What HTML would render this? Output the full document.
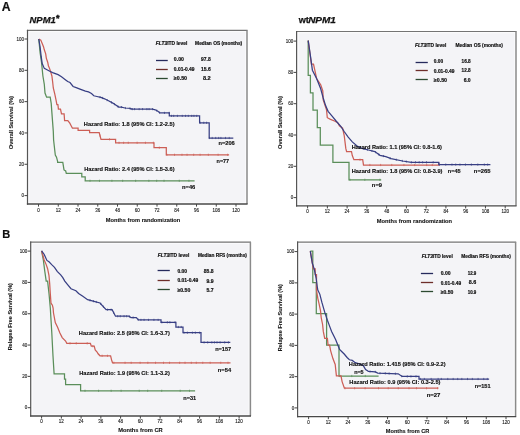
<!DOCTYPE html><html><head><meta charset="utf-8"><style>html,body{margin:0;padding:0;background:#fff;}svg{display:block;will-change:transform}</style></head><body>
<svg width="520" height="435" viewBox="0 0 520 435" font-family="Liberation Sans, sans-serif">
<rect width="520" height="435" fill="#fff"/>
<g>
<text x="1.75" y="10.92" font-size="12.2" font-weight="bold" font-style="normal" fill="#111" stroke="#111" stroke-width="0.2" textLength="8.80" lengthAdjust="spacingAndGlyphs">A</text>
<text x="2.25" y="238.15" font-size="11.6" font-weight="bold" font-style="normal" fill="#111" stroke="#111" stroke-width="0.2" textLength="8.00" lengthAdjust="spacingAndGlyphs">B</text>
<text x="29.55" y="22.99" font-size="9.9" font-weight="bold" font-style="italic" fill="#111" stroke="#111" stroke-width="0.25" textLength="26.20" lengthAdjust="spacingAndGlyphs">NPM1</text>
<text x="55.90" y="20.90" font-size="9.0" font-weight="bold" font-style="normal" text-anchor="start" fill="#111" stroke="#111" stroke-width="0.45" >*</text>
<text x="298.65" y="23.19" font-size="9.9" font-weight="bold" font-style="normal" fill="#111" stroke="#111" stroke-width="0.25" textLength="10.20" lengthAdjust="spacingAndGlyphs">wt</text>
<text x="308.15" y="23.19" font-size="9.9" font-weight="bold" font-style="italic" fill="#111" stroke="#111" stroke-width="0.25" textLength="27.80" lengthAdjust="spacingAndGlyphs">NPM1</text>
<rect x="27.5" y="30.4" width="219.5" height="173.6" fill="#fbfbfc"/>
<rect x="29.50" y="32.10" width="215.70" height="170.20" fill="#f4f4f7"/>
<path d="M26.9,30.4H247.6" stroke="#747474" stroke-width="1.2"/>
<path d="M247.0,30.4V204.0" stroke="#8a8a8a" stroke-width="1.5"/>
<path d="M27.5,29.799999999999997V204.6" stroke="#555" stroke-width="1.2"/>
<path d="M26.9,204.0H247.6" stroke="#484848" stroke-width="1.3"/>
<line x1="38.50" y1="204.0" x2="38.50" y2="206.6" stroke="#444" stroke-width="1"/>
<text x="38.50" y="211.81" font-size="4.5" font-weight="normal" font-style="normal" text-anchor="middle" fill="#222" stroke="#222" stroke-width="0.12" >0</text>
<line x1="58.25" y1="204.0" x2="58.25" y2="206.6" stroke="#444" stroke-width="1"/>
<text x="58.25" y="211.81" font-size="4.5" font-weight="normal" font-style="normal" text-anchor="middle" fill="#222" stroke="#222" stroke-width="0.12" >12</text>
<line x1="78.00" y1="204.0" x2="78.00" y2="206.6" stroke="#444" stroke-width="1"/>
<text x="78.00" y="211.81" font-size="4.5" font-weight="normal" font-style="normal" text-anchor="middle" fill="#222" stroke="#222" stroke-width="0.12" >24</text>
<line x1="97.75" y1="204.0" x2="97.75" y2="206.6" stroke="#444" stroke-width="1"/>
<text x="97.75" y="211.81" font-size="4.5" font-weight="normal" font-style="normal" text-anchor="middle" fill="#222" stroke="#222" stroke-width="0.12" >36</text>
<line x1="117.50" y1="204.0" x2="117.50" y2="206.6" stroke="#444" stroke-width="1"/>
<text x="117.50" y="211.81" font-size="4.5" font-weight="normal" font-style="normal" text-anchor="middle" fill="#222" stroke="#222" stroke-width="0.12" >48</text>
<line x1="137.25" y1="204.0" x2="137.25" y2="206.6" stroke="#444" stroke-width="1"/>
<text x="137.25" y="211.81" font-size="4.5" font-weight="normal" font-style="normal" text-anchor="middle" fill="#222" stroke="#222" stroke-width="0.12" >60</text>
<line x1="157.00" y1="204.0" x2="157.00" y2="206.6" stroke="#444" stroke-width="1"/>
<text x="157.00" y="211.81" font-size="4.5" font-weight="normal" font-style="normal" text-anchor="middle" fill="#222" stroke="#222" stroke-width="0.12" >72</text>
<line x1="176.75" y1="204.0" x2="176.75" y2="206.6" stroke="#444" stroke-width="1"/>
<text x="176.75" y="211.81" font-size="4.5" font-weight="normal" font-style="normal" text-anchor="middle" fill="#222" stroke="#222" stroke-width="0.12" >84</text>
<line x1="196.50" y1="204.0" x2="196.50" y2="206.6" stroke="#444" stroke-width="1"/>
<text x="196.50" y="211.81" font-size="4.5" font-weight="normal" font-style="normal" text-anchor="middle" fill="#222" stroke="#222" stroke-width="0.12" >96</text>
<line x1="216.25" y1="204.0" x2="216.25" y2="206.6" stroke="#444" stroke-width="1"/>
<text x="216.25" y="211.81" font-size="4.5" font-weight="normal" font-style="normal" text-anchor="middle" fill="#222" stroke="#222" stroke-width="0.12" >108</text>
<line x1="236.00" y1="204.0" x2="236.00" y2="206.6" stroke="#444" stroke-width="1"/>
<text x="236.00" y="211.81" font-size="4.5" font-weight="normal" font-style="normal" text-anchor="middle" fill="#222" stroke="#222" stroke-width="0.12" >120</text>
<line x1="24.5" y1="195.60" x2="27.5" y2="195.60" stroke="#444" stroke-width="1"/>
<text x="24.10" y="197.21" font-size="4.5" font-weight="normal" font-style="normal" text-anchor="end" fill="#222" stroke="#222" stroke-width="0.12" >0</text>
<line x1="24.5" y1="164.28" x2="27.5" y2="164.28" stroke="#444" stroke-width="1"/>
<text x="24.10" y="165.89" font-size="4.5" font-weight="normal" font-style="normal" text-anchor="end" fill="#222" stroke="#222" stroke-width="0.12" >20</text>
<line x1="24.5" y1="132.96" x2="27.5" y2="132.96" stroke="#444" stroke-width="1"/>
<text x="24.10" y="134.57" font-size="4.5" font-weight="normal" font-style="normal" text-anchor="end" fill="#222" stroke="#222" stroke-width="0.12" >40</text>
<line x1="24.5" y1="101.64" x2="27.5" y2="101.64" stroke="#444" stroke-width="1"/>
<text x="24.10" y="103.25" font-size="4.5" font-weight="normal" font-style="normal" text-anchor="end" fill="#222" stroke="#222" stroke-width="0.12" >60</text>
<line x1="24.5" y1="70.32" x2="27.5" y2="70.32" stroke="#444" stroke-width="1"/>
<text x="24.10" y="71.93" font-size="4.5" font-weight="normal" font-style="normal" text-anchor="end" fill="#222" stroke="#222" stroke-width="0.12" >80</text>
<line x1="24.5" y1="39.00" x2="27.5" y2="39.00" stroke="#444" stroke-width="1"/>
<text x="24.10" y="40.61" font-size="4.5" font-weight="normal" font-style="normal" text-anchor="end" fill="#222" stroke="#222" stroke-width="0.12" >100</text>
<text transform="translate(10.60,149.25) rotate(-90)" x="0" y="2.18" font-size="6.1" font-weight="bold" fill="#1a1a1a" stroke="#1a1a1a" stroke-width="0.1" textLength="53.20" lengthAdjust="spacingAndGlyphs">Overall Survival (%)</text>
<text x="105.85" y="221.68" font-size="6.1" font-weight="bold" font-style="normal" fill="#111" stroke="#111" stroke-width="0.1" textLength="74.40" lengthAdjust="spacingAndGlyphs">Months from randomization</text>
<rect x="296.6" y="31.5" width="219.39999999999998" height="174.3" fill="#fbfbfc"/>
<rect x="298.60" y="33.20" width="215.60" height="170.90" fill="#f4f4f7"/>
<path d="M296.0,31.5H516.6" stroke="#747474" stroke-width="1.2"/>
<path d="M516.0,31.5V205.8" stroke="#8a8a8a" stroke-width="1.5"/>
<path d="M296.6,30.9V206.4" stroke="#555" stroke-width="1.2"/>
<path d="M296.0,205.8H516.6" stroke="#484848" stroke-width="1.3"/>
<line x1="307.60" y1="205.8" x2="307.60" y2="208.4" stroke="#444" stroke-width="1"/>
<text x="307.60" y="213.01" font-size="4.5" font-weight="normal" font-style="normal" text-anchor="middle" fill="#222" stroke="#222" stroke-width="0.12" >0</text>
<line x1="327.36" y1="205.8" x2="327.36" y2="208.4" stroke="#444" stroke-width="1"/>
<text x="327.36" y="213.01" font-size="4.5" font-weight="normal" font-style="normal" text-anchor="middle" fill="#222" stroke="#222" stroke-width="0.12" >12</text>
<line x1="347.12" y1="205.8" x2="347.12" y2="208.4" stroke="#444" stroke-width="1"/>
<text x="347.12" y="213.01" font-size="4.5" font-weight="normal" font-style="normal" text-anchor="middle" fill="#222" stroke="#222" stroke-width="0.12" >24</text>
<line x1="366.88" y1="205.8" x2="366.88" y2="208.4" stroke="#444" stroke-width="1"/>
<text x="366.88" y="213.01" font-size="4.5" font-weight="normal" font-style="normal" text-anchor="middle" fill="#222" stroke="#222" stroke-width="0.12" >36</text>
<line x1="386.64" y1="205.8" x2="386.64" y2="208.4" stroke="#444" stroke-width="1"/>
<text x="386.64" y="213.01" font-size="4.5" font-weight="normal" font-style="normal" text-anchor="middle" fill="#222" stroke="#222" stroke-width="0.12" >48</text>
<line x1="406.40" y1="205.8" x2="406.40" y2="208.4" stroke="#444" stroke-width="1"/>
<text x="406.40" y="213.01" font-size="4.5" font-weight="normal" font-style="normal" text-anchor="middle" fill="#222" stroke="#222" stroke-width="0.12" >60</text>
<line x1="426.16" y1="205.8" x2="426.16" y2="208.4" stroke="#444" stroke-width="1"/>
<text x="426.16" y="213.01" font-size="4.5" font-weight="normal" font-style="normal" text-anchor="middle" fill="#222" stroke="#222" stroke-width="0.12" >72</text>
<line x1="445.92" y1="205.8" x2="445.92" y2="208.4" stroke="#444" stroke-width="1"/>
<text x="445.92" y="213.01" font-size="4.5" font-weight="normal" font-style="normal" text-anchor="middle" fill="#222" stroke="#222" stroke-width="0.12" >84</text>
<line x1="465.68" y1="205.8" x2="465.68" y2="208.4" stroke="#444" stroke-width="1"/>
<text x="465.68" y="213.01" font-size="4.5" font-weight="normal" font-style="normal" text-anchor="middle" fill="#222" stroke="#222" stroke-width="0.12" >96</text>
<line x1="485.44" y1="205.8" x2="485.44" y2="208.4" stroke="#444" stroke-width="1"/>
<text x="485.44" y="213.01" font-size="4.5" font-weight="normal" font-style="normal" text-anchor="middle" fill="#222" stroke="#222" stroke-width="0.12" >108</text>
<line x1="505.20" y1="205.8" x2="505.20" y2="208.4" stroke="#444" stroke-width="1"/>
<text x="505.20" y="213.01" font-size="4.5" font-weight="normal" font-style="normal" text-anchor="middle" fill="#222" stroke="#222" stroke-width="0.12" >120</text>
<line x1="293.6" y1="197.60" x2="296.6" y2="197.60" stroke="#444" stroke-width="1"/>
<text x="293.20" y="199.21" font-size="4.5" font-weight="normal" font-style="normal" text-anchor="end" fill="#222" stroke="#222" stroke-width="0.12" >0</text>
<line x1="293.6" y1="166.30" x2="296.6" y2="166.30" stroke="#444" stroke-width="1"/>
<text x="293.20" y="167.91" font-size="4.5" font-weight="normal" font-style="normal" text-anchor="end" fill="#222" stroke="#222" stroke-width="0.12" >20</text>
<line x1="293.6" y1="135.00" x2="296.6" y2="135.00" stroke="#444" stroke-width="1"/>
<text x="293.20" y="136.61" font-size="4.5" font-weight="normal" font-style="normal" text-anchor="end" fill="#222" stroke="#222" stroke-width="0.12" >40</text>
<line x1="293.6" y1="103.70" x2="296.6" y2="103.70" stroke="#444" stroke-width="1"/>
<text x="293.20" y="105.31" font-size="4.5" font-weight="normal" font-style="normal" text-anchor="end" fill="#222" stroke="#222" stroke-width="0.12" >60</text>
<line x1="293.6" y1="72.40" x2="296.6" y2="72.40" stroke="#444" stroke-width="1"/>
<text x="293.20" y="74.01" font-size="4.5" font-weight="normal" font-style="normal" text-anchor="end" fill="#222" stroke="#222" stroke-width="0.12" >80</text>
<line x1="293.6" y1="41.10" x2="296.6" y2="41.10" stroke="#444" stroke-width="1"/>
<text x="293.20" y="42.71" font-size="4.5" font-weight="normal" font-style="normal" text-anchor="end" fill="#222" stroke="#222" stroke-width="0.12" >100</text>
<text transform="translate(279.50,148.95) rotate(-90)" x="0" y="2.18" font-size="6.1" font-weight="bold" fill="#1a1a1a" stroke="#1a1a1a" stroke-width="0.1" textLength="52.90" lengthAdjust="spacingAndGlyphs">Overall Survival (%)</text>
<text x="376.85" y="222.78" font-size="6.1" font-weight="bold" font-style="normal" fill="#111" stroke="#111" stroke-width="0.1" textLength="75.20" lengthAdjust="spacingAndGlyphs">Months from randomization</text>
<rect x="30.7" y="242.2" width="219.70000000000002" height="173.8" fill="#fbfbfc"/>
<rect x="32.70" y="243.90" width="215.90" height="170.40" fill="#f4f4f7"/>
<path d="M30.099999999999998,242.2H251.0" stroke="#747474" stroke-width="1.2"/>
<path d="M250.4,242.2V416.0" stroke="#8a8a8a" stroke-width="1.5"/>
<path d="M30.7,241.6V416.6" stroke="#555" stroke-width="1.2"/>
<path d="M30.099999999999998,416.0H251.0" stroke="#484848" stroke-width="1.3"/>
<line x1="41.60" y1="416.0" x2="41.60" y2="418.6" stroke="#444" stroke-width="1"/>
<text x="41.60" y="423.21" font-size="4.5" font-weight="normal" font-style="normal" text-anchor="middle" fill="#222" stroke="#222" stroke-width="0.12" >0</text>
<line x1="61.35" y1="416.0" x2="61.35" y2="418.6" stroke="#444" stroke-width="1"/>
<text x="61.35" y="423.21" font-size="4.5" font-weight="normal" font-style="normal" text-anchor="middle" fill="#222" stroke="#222" stroke-width="0.12" >12</text>
<line x1="81.10" y1="416.0" x2="81.10" y2="418.6" stroke="#444" stroke-width="1"/>
<text x="81.10" y="423.21" font-size="4.5" font-weight="normal" font-style="normal" text-anchor="middle" fill="#222" stroke="#222" stroke-width="0.12" >24</text>
<line x1="100.85" y1="416.0" x2="100.85" y2="418.6" stroke="#444" stroke-width="1"/>
<text x="100.85" y="423.21" font-size="4.5" font-weight="normal" font-style="normal" text-anchor="middle" fill="#222" stroke="#222" stroke-width="0.12" >36</text>
<line x1="120.60" y1="416.0" x2="120.60" y2="418.6" stroke="#444" stroke-width="1"/>
<text x="120.60" y="423.21" font-size="4.5" font-weight="normal" font-style="normal" text-anchor="middle" fill="#222" stroke="#222" stroke-width="0.12" >48</text>
<line x1="140.35" y1="416.0" x2="140.35" y2="418.6" stroke="#444" stroke-width="1"/>
<text x="140.35" y="423.21" font-size="4.5" font-weight="normal" font-style="normal" text-anchor="middle" fill="#222" stroke="#222" stroke-width="0.12" >60</text>
<line x1="160.10" y1="416.0" x2="160.10" y2="418.6" stroke="#444" stroke-width="1"/>
<text x="160.10" y="423.21" font-size="4.5" font-weight="normal" font-style="normal" text-anchor="middle" fill="#222" stroke="#222" stroke-width="0.12" >72</text>
<line x1="179.85" y1="416.0" x2="179.85" y2="418.6" stroke="#444" stroke-width="1"/>
<text x="179.85" y="423.21" font-size="4.5" font-weight="normal" font-style="normal" text-anchor="middle" fill="#222" stroke="#222" stroke-width="0.12" >84</text>
<line x1="199.60" y1="416.0" x2="199.60" y2="418.6" stroke="#444" stroke-width="1"/>
<text x="199.60" y="423.21" font-size="4.5" font-weight="normal" font-style="normal" text-anchor="middle" fill="#222" stroke="#222" stroke-width="0.12" >96</text>
<line x1="219.35" y1="416.0" x2="219.35" y2="418.6" stroke="#444" stroke-width="1"/>
<text x="219.35" y="423.21" font-size="4.5" font-weight="normal" font-style="normal" text-anchor="middle" fill="#222" stroke="#222" stroke-width="0.12" >108</text>
<line x1="239.10" y1="416.0" x2="239.10" y2="418.6" stroke="#444" stroke-width="1"/>
<text x="239.10" y="423.21" font-size="4.5" font-weight="normal" font-style="normal" text-anchor="middle" fill="#222" stroke="#222" stroke-width="0.12" >120</text>
<line x1="27.7" y1="407.70" x2="30.7" y2="407.70" stroke="#444" stroke-width="1"/>
<text x="27.30" y="409.31" font-size="4.5" font-weight="normal" font-style="normal" text-anchor="end" fill="#222" stroke="#222" stroke-width="0.12" >0</text>
<line x1="27.7" y1="376.38" x2="30.7" y2="376.38" stroke="#444" stroke-width="1"/>
<text x="27.30" y="377.99" font-size="4.5" font-weight="normal" font-style="normal" text-anchor="end" fill="#222" stroke="#222" stroke-width="0.12" >20</text>
<line x1="27.7" y1="345.06" x2="30.7" y2="345.06" stroke="#444" stroke-width="1"/>
<text x="27.30" y="346.67" font-size="4.5" font-weight="normal" font-style="normal" text-anchor="end" fill="#222" stroke="#222" stroke-width="0.12" >40</text>
<line x1="27.7" y1="313.74" x2="30.7" y2="313.74" stroke="#444" stroke-width="1"/>
<text x="27.30" y="315.35" font-size="4.5" font-weight="normal" font-style="normal" text-anchor="end" fill="#222" stroke="#222" stroke-width="0.12" >60</text>
<line x1="27.7" y1="282.42" x2="30.7" y2="282.42" stroke="#444" stroke-width="1"/>
<text x="27.30" y="284.03" font-size="4.5" font-weight="normal" font-style="normal" text-anchor="end" fill="#222" stroke="#222" stroke-width="0.12" >80</text>
<line x1="27.7" y1="251.10" x2="30.7" y2="251.10" stroke="#444" stroke-width="1"/>
<text x="27.30" y="252.71" font-size="4.5" font-weight="normal" font-style="normal" text-anchor="end" fill="#222" stroke="#222" stroke-width="0.12" >100</text>
<text transform="translate(10.20,350.35) rotate(-90)" x="0" y="2.18" font-size="6.1" font-weight="bold" fill="#1a1a1a" stroke="#1a1a1a" stroke-width="0.1" textLength="67.20" lengthAdjust="spacingAndGlyphs">Relapse Free Survival (%)</text>
<text x="118.15" y="431.58" font-size="6.1" font-weight="bold" font-style="normal" fill="#111" stroke="#111" stroke-width="0.1" textLength="44.50" lengthAdjust="spacingAndGlyphs">Months from CR</text>
<rect x="297.6" y="242.2" width="218.0" height="174.40000000000003" fill="#fbfbfc"/>
<rect x="299.60" y="243.90" width="214.20" height="171.00" fill="#f4f4f7"/>
<path d="M297.0,242.2H516.2" stroke="#747474" stroke-width="1.2"/>
<path d="M515.6,242.2V416.6" stroke="#8a8a8a" stroke-width="1.5"/>
<path d="M297.6,241.6V417.20000000000005" stroke="#555" stroke-width="1.2"/>
<path d="M297.0,416.6H516.2" stroke="#484848" stroke-width="1.3"/>
<line x1="308.60" y1="416.6" x2="308.60" y2="419.20000000000005" stroke="#444" stroke-width="1"/>
<text x="308.60" y="423.71" font-size="4.5" font-weight="normal" font-style="normal" text-anchor="middle" fill="#222" stroke="#222" stroke-width="0.12" >0</text>
<line x1="328.34" y1="416.6" x2="328.34" y2="419.20000000000005" stroke="#444" stroke-width="1"/>
<text x="328.34" y="423.71" font-size="4.5" font-weight="normal" font-style="normal" text-anchor="middle" fill="#222" stroke="#222" stroke-width="0.12" >12</text>
<line x1="348.08" y1="416.6" x2="348.08" y2="419.20000000000005" stroke="#444" stroke-width="1"/>
<text x="348.08" y="423.71" font-size="4.5" font-weight="normal" font-style="normal" text-anchor="middle" fill="#222" stroke="#222" stroke-width="0.12" >24</text>
<line x1="367.82" y1="416.6" x2="367.82" y2="419.20000000000005" stroke="#444" stroke-width="1"/>
<text x="367.82" y="423.71" font-size="4.5" font-weight="normal" font-style="normal" text-anchor="middle" fill="#222" stroke="#222" stroke-width="0.12" >36</text>
<line x1="387.56" y1="416.6" x2="387.56" y2="419.20000000000005" stroke="#444" stroke-width="1"/>
<text x="387.56" y="423.71" font-size="4.5" font-weight="normal" font-style="normal" text-anchor="middle" fill="#222" stroke="#222" stroke-width="0.12" >48</text>
<line x1="407.30" y1="416.6" x2="407.30" y2="419.20000000000005" stroke="#444" stroke-width="1"/>
<text x="407.30" y="423.71" font-size="4.5" font-weight="normal" font-style="normal" text-anchor="middle" fill="#222" stroke="#222" stroke-width="0.12" >60</text>
<line x1="427.04" y1="416.6" x2="427.04" y2="419.20000000000005" stroke="#444" stroke-width="1"/>
<text x="427.04" y="423.71" font-size="4.5" font-weight="normal" font-style="normal" text-anchor="middle" fill="#222" stroke="#222" stroke-width="0.12" >72</text>
<line x1="446.78" y1="416.6" x2="446.78" y2="419.20000000000005" stroke="#444" stroke-width="1"/>
<text x="446.78" y="423.71" font-size="4.5" font-weight="normal" font-style="normal" text-anchor="middle" fill="#222" stroke="#222" stroke-width="0.12" >84</text>
<line x1="466.52" y1="416.6" x2="466.52" y2="419.20000000000005" stroke="#444" stroke-width="1"/>
<text x="466.52" y="423.71" font-size="4.5" font-weight="normal" font-style="normal" text-anchor="middle" fill="#222" stroke="#222" stroke-width="0.12" >96</text>
<line x1="486.26" y1="416.6" x2="486.26" y2="419.20000000000005" stroke="#444" stroke-width="1"/>
<text x="486.26" y="423.71" font-size="4.5" font-weight="normal" font-style="normal" text-anchor="middle" fill="#222" stroke="#222" stroke-width="0.12" >108</text>
<line x1="506.00" y1="416.6" x2="506.00" y2="419.20000000000005" stroke="#444" stroke-width="1"/>
<text x="506.00" y="423.71" font-size="4.5" font-weight="normal" font-style="normal" text-anchor="middle" fill="#222" stroke="#222" stroke-width="0.12" >120</text>
<line x1="294.6" y1="407.90" x2="297.6" y2="407.90" stroke="#444" stroke-width="1"/>
<text x="294.20" y="409.51" font-size="4.5" font-weight="normal" font-style="normal" text-anchor="end" fill="#222" stroke="#222" stroke-width="0.12" >0</text>
<line x1="294.6" y1="376.64" x2="297.6" y2="376.64" stroke="#444" stroke-width="1"/>
<text x="294.20" y="378.25" font-size="4.5" font-weight="normal" font-style="normal" text-anchor="end" fill="#222" stroke="#222" stroke-width="0.12" >20</text>
<line x1="294.6" y1="345.38" x2="297.6" y2="345.38" stroke="#444" stroke-width="1"/>
<text x="294.20" y="346.99" font-size="4.5" font-weight="normal" font-style="normal" text-anchor="end" fill="#222" stroke="#222" stroke-width="0.12" >40</text>
<line x1="294.6" y1="314.12" x2="297.6" y2="314.12" stroke="#444" stroke-width="1"/>
<text x="294.20" y="315.73" font-size="4.5" font-weight="normal" font-style="normal" text-anchor="end" fill="#222" stroke="#222" stroke-width="0.12" >60</text>
<line x1="294.6" y1="282.86" x2="297.6" y2="282.86" stroke="#444" stroke-width="1"/>
<text x="294.20" y="284.47" font-size="4.5" font-weight="normal" font-style="normal" text-anchor="end" fill="#222" stroke="#222" stroke-width="0.12" >80</text>
<line x1="294.6" y1="251.60" x2="297.6" y2="251.60" stroke="#444" stroke-width="1"/>
<text x="294.20" y="253.21" font-size="4.5" font-weight="normal" font-style="normal" text-anchor="end" fill="#222" stroke="#222" stroke-width="0.12" >100</text>
<text transform="translate(280.20,351.15) rotate(-90)" x="0" y="2.18" font-size="6.1" font-weight="bold" fill="#1a1a1a" stroke="#1a1a1a" stroke-width="0.1" textLength="67.00" lengthAdjust="spacingAndGlyphs">Relapse Free Survival (%)</text>
<text x="385.85" y="432.58" font-size="6.1" font-weight="bold" font-style="normal" fill="#111" stroke="#111" stroke-width="0.1" textLength="43.50" lengthAdjust="spacingAndGlyphs">Months from CR</text>
<path d="M38.8,39 L40.1,52.6 L41.5,62.2 L42.2,69.1 L42.9,76 L44.3,84.3 L45,93.1 L46.6,97.2 H50.2 L51.2,103.4 L52.2,116.9 L53.3,131.4 L53.6,140 L55.3,155 L56.5,157.2 L57.6,161.3 V162.4 H62.8 L64,169.9 L65.7,171 L66.3,173.3 H81.8 V176.8 H85.2 V180.8 H194.6" fill="none" stroke="#5a8e5a" stroke-width="1.25" stroke-linejoin="miter"/>
<path d="M90.00,179.70v2.2M99.48,179.70v2.2M111.91,179.70v2.2M122.66,179.70v2.2M135.66,179.70v2.2M148.87,179.70v2.2M156.69,179.70v2.2M164.02,179.70v2.2M179.26,179.70v2.2M188.95,179.70v2.2" stroke="#5a8e5a" stroke-width="0.7" fill="none"/>
<path d="M38.8,39 L40.8,40.1 L42.2,43.6 L43.6,47 L44.3,49.8 L45.7,53.9 L46.3,58.1 L47.7,62.2 L48.4,65.7 L49.8,69.1 L50.9,72.6 L51.9,76 L52.6,81.5 L53.3,88 L54.8,94.1 L55.9,99.3 L56.9,104.5 H57.9 L58.4,109.1 H60.5 L61.5,113.8 H64.1 L64.6,120.5 H67.8 L69.8,123.1 L71.4,126.2 L72.4,128.1 H78.1 V130.3 H89.6 V132.7 H99.2 L101,139.3 H115.6 V142.8 H154 V147.7 H166.3 V154.8 H229.1" fill="none" stroke="#cc5e56" stroke-width="1.25" stroke-linejoin="miter"/>
<path d="M100.00,134.53v2.2M109.55,138.20v2.2M119.06,141.70v2.2M123.58,141.70v2.2M128.25,141.70v2.2M137.13,141.70v2.2M145.45,141.70v2.2M153.40,141.70v2.2M159.33,146.60v2.2M166.92,153.70v2.2M174.52,153.70v2.2M181.98,153.70v2.2M187.06,153.70v2.2M193.67,153.70v2.2M200.08,153.70v2.2M208.33,153.70v2.2M218.10,153.70v2.2M227.61,153.70v2.2" stroke="#cc5e56" stroke-width="0.7" fill="none"/>
<path d="M38.8,39 L40.1,47 L41.2,56.7 L42.2,63.6 L44.3,68.4 L47,69.8 L49.8,71.2 L52.6,72.6 L58.1,74.6 L61.5,76.7 L65,79.4 L67.7,81.5 L70,82.5 L73.1,86.5 L76.2,87.7 L80,89.2 L85.4,91.2 L88.5,91.9 L91.5,93.5 L93.8,95.8 L96.9,96.5 L100.8,97.3 L104.6,98.8 L108.5,100.8 L112.8,103.1 L118.8,107.1 H121.5 L124.9,108 L131,108.5 V109.1 H152.5 L155.2,109.8 L157.9,111.2 L159.9,112.9 H169.3 V115.9 H199.6 V122.8 H209.2 V138 H233.3" fill="none" stroke="#383f84" stroke-width="1.25" stroke-linejoin="miter"/>
<path d="M100.00,96.04v2.2M102.55,96.89v2.2M107.15,99.01v2.2M111.51,101.31v2.2M114.40,103.07v2.2M117.99,105.46v2.2M121.44,106.00v2.2M125.48,106.95v2.2M129.91,107.31v2.2M132.34,108.00v2.2M134.58,108.00v2.2M139.15,108.00v2.2M142.56,108.00v2.2M146.91,108.00v2.2M149.08,108.00v2.2M152.52,108.01v2.2M156.76,109.51v2.2M159.58,111.53v2.2M164.46,111.80v2.2M169.22,111.80v2.2M171.46,114.80v2.2M173.70,114.80v2.2M177.42,114.80v2.2M182.28,114.80v2.2M185.54,114.80v2.2M188.32,114.80v2.2M191.70,114.80v2.2M193.94,114.80v2.2M196.74,114.80v2.2M200.16,121.70v2.2M203.75,121.70v2.2M206.58,121.70v2.2M209.41,136.90v2.2M212.20,136.90v2.2M215.68,136.90v2.2M218.67,136.90v2.2M220.90,136.90v2.2M225.47,136.90v2.2M229.23,136.90v2.2" stroke="#383f84" stroke-width="0.7" fill="none"/>
<text x="155.85" y="45.23" font-size="5.4" font-weight="bold" font-style="normal" fill="#111" stroke="#111" stroke-width="0.2" textLength="31.55" lengthAdjust="spacingAndGlyphs"><tspan font-style="italic">FLT3</tspan>ITD level</text>
<text x="195.10" y="45.23" font-size="5.4" font-weight="bold" font-style="normal" fill="#111" stroke="#111" stroke-width="0.2" textLength="47.15" lengthAdjust="spacingAndGlyphs">Median OS (months)</text>
<line x1="156.0" y1="60.5" x2="167.75" y2="60.5" stroke="#262a5c" stroke-width="1.3"/>
<text x="173.85" y="61.43" font-size="5.4" font-weight="bold" font-style="normal" fill="#111" stroke="#111" stroke-width="0.2" textLength="10.05" lengthAdjust="spacingAndGlyphs">0.00</text>
<text x="201.10" y="61.43" font-size="5.4" font-weight="bold" font-style="normal" fill="#111" stroke="#111" stroke-width="0.2" textLength="9.65" lengthAdjust="spacingAndGlyphs">97.8</text>
<line x1="156.0" y1="69.5" x2="167.75" y2="69.5" stroke="#6e2e2a" stroke-width="1.3"/>
<text x="173.85" y="70.93" font-size="5.4" font-weight="bold" font-style="normal" fill="#111" stroke="#111" stroke-width="0.2" textLength="20.70" lengthAdjust="spacingAndGlyphs">0.01-0.49</text>
<text x="201.10" y="70.93" font-size="5.4" font-weight="bold" font-style="normal" fill="#111" stroke="#111" stroke-width="0.2" textLength="9.65" lengthAdjust="spacingAndGlyphs">15.6</text>
<line x1="156.0" y1="78.5" x2="167.75" y2="78.5" stroke="#2c4a30" stroke-width="1.3"/>
<text x="173.85" y="80.18" font-size="5.4" font-weight="bold" font-style="normal" fill="#111" stroke="#111" stroke-width="0.2" textLength="13.20" lengthAdjust="spacingAndGlyphs">&#8805;0.50</text>
<text x="202.95" y="80.18" font-size="5.4" font-weight="bold" font-style="normal" fill="#111" stroke="#111" stroke-width="0.2" textLength="7.80" lengthAdjust="spacingAndGlyphs">8.2</text>
<text x="83.85" y="126.38" font-size="6.1" font-weight="bold" font-style="normal" fill="#111" stroke="#111" stroke-width="0.15" textLength="90.70" lengthAdjust="spacingAndGlyphs">Hazard Ratio: 1.8 (95% CI: 1.2-2.5)</text>
<text x="84.15" y="170.88" font-size="6.1" font-weight="bold" font-style="normal" fill="#111" stroke="#111" stroke-width="0.15" textLength="90.40" lengthAdjust="spacingAndGlyphs">Hazard Ratio: 2.4 (95% CI: 1.5-3.6)</text>
<text x="218.45" y="145.18" font-size="6.1" font-weight="bold" font-style="normal" fill="#111" stroke="#111" stroke-width="0.15" textLength="16.30" lengthAdjust="spacingAndGlyphs">n=206</text>
<text x="216.55" y="163.18" font-size="6.1" font-weight="bold" font-style="normal" fill="#111" stroke="#111" stroke-width="0.15" textLength="12.60" lengthAdjust="spacingAndGlyphs">n=77</text>
<text x="182.05" y="188.58" font-size="6.1" font-weight="bold" font-style="normal" fill="#111" stroke="#111" stroke-width="0.15" textLength="13.20" lengthAdjust="spacingAndGlyphs">n=46</text>
<path d="M308.2,40.6 V75.4 H310.4 V92.8 H313 V110.2 H317.3 V127.6 H320.3 V145 H332.9 V162.4 H349 V179.8 H381.2" fill="none" stroke="#5a8e5a" stroke-width="1.25" stroke-linejoin="miter"/>
<path d="M350.00,178.70v2.2M364.82,178.70v2.2M379.91,178.70v2.2" stroke="#5a8e5a" stroke-width="0.7" fill="none"/>
<path d="M308.2,40.6 L311.4,64 H313.5 L316.6,78.5 L320.7,84.7 L322.8,90.9 L323.2,100 L326.5,109.7 L327.3,117.7 L330.5,119.4 L334.5,121 L337.7,122.6 L339.4,125.8 L342.6,128.2 L344.2,135.5 L345,141.9 L345.8,148.4 L346.6,151.6 H351.5 L352.3,155.6 L353.9,159.7 H362.7 L363.5,165 H438.8 V162.5" fill="none" stroke="#cc5e56" stroke-width="1.25" stroke-linejoin="miter"/>
<path d="M360.00,158.60v2.2M369.88,163.90v2.2M380.63,163.90v2.2M391.75,163.90v2.2M403.94,163.90v2.2M414.66,163.90v2.2M426.70,163.90v2.2M432.31,163.90v2.2" stroke="#cc5e56" stroke-width="0.7" fill="none"/>
<path d="M308.2,40.6 L310.4,55.7 L312.4,70.2 L316.6,78.5 L320.7,88.8 L323.2,98 L325.6,105.6 L328.1,111.3 L332.1,116.1 L336.1,121 L341,126.6 L344.2,131.5 L348.2,137.1 L352.3,141.9 L357.1,146 L361.9,148.4 L368.4,150 L374.8,151.6 L380,155.3 L385.8,156.6 L391.1,158.7 L402.6,161 L411.3,162.3 H438.8 V164.6 H490.4" fill="none" stroke="#383f84" stroke-width="1.25" stroke-linejoin="miter"/>
<path d="M360.00,146.35v2.2M363.94,147.80v2.2M367.36,148.64v2.2M371.94,149.79v2.2M375.56,151.04v2.2M378.83,153.37v2.2M383.43,154.97v2.2M390.11,157.21v2.2M396.31,158.64v2.2M402.37,159.85v2.2M406.26,160.45v2.2M411.40,161.20v2.2M415.51,161.20v2.2M419.20,161.20v2.2M422.62,161.20v2.2M426.48,161.20v2.2M433.19,161.20v2.2M439.51,163.50v2.2M445.73,163.50v2.2M451.94,163.50v2.2M455.71,163.50v2.2M459.95,163.50v2.2M465.46,163.50v2.2M471.38,163.50v2.2M477.80,163.50v2.2M484.32,163.50v2.2M487.67,163.50v2.2" stroke="#383f84" stroke-width="0.7" fill="none"/>
<text x="414.95" y="46.73" font-size="5.4" font-weight="bold" font-style="normal" fill="#111" stroke="#111" stroke-width="0.2" textLength="31.40" lengthAdjust="spacingAndGlyphs"><tspan font-style="italic">FLT3</tspan>ITD level</text>
<text x="455.55" y="46.73" font-size="5.4" font-weight="bold" font-style="normal" fill="#111" stroke="#111" stroke-width="0.2" textLength="47.30" lengthAdjust="spacingAndGlyphs">Median OS (months)</text>
<line x1="415.6" y1="62.5" x2="427.8" y2="62.5" stroke="#262a5c" stroke-width="1.3"/>
<text x="433.85" y="63.33" font-size="5.4" font-weight="bold" font-style="normal" fill="#111" stroke="#111" stroke-width="0.2" textLength="9.30" lengthAdjust="spacingAndGlyphs">0.00</text>
<text x="461.55" y="62.53" font-size="5.4" font-weight="bold" font-style="normal" fill="#111" stroke="#111" stroke-width="0.2" textLength="9.10" lengthAdjust="spacingAndGlyphs">16.8</text>
<line x1="415.6" y1="70.5" x2="427.8" y2="70.5" stroke="#6e2e2a" stroke-width="1.3"/>
<text x="433.85" y="72.53" font-size="5.4" font-weight="bold" font-style="normal" fill="#111" stroke="#111" stroke-width="0.2" textLength="20.60" lengthAdjust="spacingAndGlyphs">0.01-0.49</text>
<text x="461.55" y="71.93" font-size="5.4" font-weight="bold" font-style="normal" fill="#111" stroke="#111" stroke-width="0.2" textLength="9.10" lengthAdjust="spacingAndGlyphs">12.8</text>
<line x1="415.6" y1="79.5" x2="427.8" y2="79.5" stroke="#2c4a30" stroke-width="1.3"/>
<text x="433.85" y="82.03" font-size="5.4" font-weight="bold" font-style="normal" fill="#111" stroke="#111" stroke-width="0.2" textLength="13.20" lengthAdjust="spacingAndGlyphs">&#8805;0.50</text>
<text x="463.65" y="81.73" font-size="5.4" font-weight="bold" font-style="normal" fill="#111" stroke="#111" stroke-width="0.2" textLength="7.00" lengthAdjust="spacingAndGlyphs">6.0</text>
<text x="351.65" y="148.98" font-size="6.1" font-weight="bold" font-style="normal" fill="#111" stroke="#111" stroke-width="0.15" textLength="90.30" lengthAdjust="spacingAndGlyphs">Hazard Ratio: 1.1 (95% CI: 0.8-1.6)</text>
<text x="351.65" y="173.38" font-size="6.1" font-weight="bold" font-style="normal" fill="#111" stroke="#111" stroke-width="0.15" textLength="90.80" lengthAdjust="spacingAndGlyphs">Hazard Ratio: 1.8 (95% CI: 0.8-3.9)</text>
<text x="447.85" y="173.38" font-size="6.1" font-weight="bold" font-style="normal" fill="#111" stroke="#111" stroke-width="0.15" textLength="12.80" lengthAdjust="spacingAndGlyphs">n=45</text>
<text x="473.85" y="173.38" font-size="6.1" font-weight="bold" font-style="normal" fill="#111" stroke="#111" stroke-width="0.15" textLength="16.70" lengthAdjust="spacingAndGlyphs">n=265</text>
<text x="371.85" y="187.18" font-size="6.1" font-weight="bold" font-style="normal" fill="#111" stroke="#111" stroke-width="0.15" textLength="10.20" lengthAdjust="spacingAndGlyphs">n=9</text>
<path d="M41.6,250.8 L43.4,260.4 L44.8,271.4 L46.2,281.1 H47.6 L49,293.5 L50.3,308 L51.8,333 L53,356 L54.1,373.8 H64.5 V379 H65.6 V384.7 H80.6 V390.8 H195.1" fill="none" stroke="#5a8e5a" stroke-width="1.25" stroke-linejoin="miter"/>
<path d="M85.00,389.70v2.2M98.59,389.70v2.2M111.17,389.70v2.2M121.12,389.70v2.2M139.22,389.70v2.2M147.70,389.70v2.2M161.73,389.70v2.2M180.19,389.70v2.2M189.49,389.70v2.2" stroke="#5a8e5a" stroke-width="0.7" fill="none"/>
<path d="M41.6,250.8 L44.1,259.7 L46.2,264.6 L47.6,268.7 L49,275.6 L49.7,283.9 L50.3,293.5 L51,303.2 L52.4,305.2 L53.1,308 L53.5,313 L55.3,322.6 L57.6,327.2 L59.9,333 L62.2,337.6 L65.6,341 L66.8,343.3 H90.4 L91.3,346.2 H94.2 L95.2,350 L97.1,352 L98.1,353.8 L100,355.8 H110.6 L111.5,359.6 L112.5,362.8 H230.5" fill="none" stroke="#cc5e56" stroke-width="1.25" stroke-linejoin="miter"/>
<path d="M70.00,342.20v2.2M76.25,342.20v2.2M87.21,342.20v2.2M92.82,345.10v2.2M102.13,354.70v2.2M107.47,354.70v2.2M113.86,361.70v2.2M125.05,361.70v2.2M131.19,361.70v2.2M140.10,361.70v2.2M147.84,361.70v2.2M155.54,361.70v2.2M163.51,361.70v2.2M169.54,361.70v2.2M179.65,361.70v2.2M185.03,361.70v2.2M191.32,361.70v2.2M196.25,361.70v2.2M202.76,361.70v2.2M210.17,361.70v2.2M220.74,361.70v2.2M227.97,361.70v2.2" stroke="#cc5e56" stroke-width="0.7" fill="none"/>
<path d="M41.6,250.8 L44.1,254.2 L46.9,260.4 L49,261.8 L51.7,264.6 L54.5,267.3 L57.2,271.4 L60.7,274.9 L62.8,277.7 L64.8,281.1 L67.6,284.6 L71,288.7 L75.9,290.8 L78.6,293.5 L82.8,296.3 L87.6,299.7 L93.1,301.1 L100,303 L106.1,309.7 H112.1 L115.5,316.2 H128.9 L131,317.5 H136.3 L138.4,319.9 H161 V322.3 H175.9 V327 H183 V332.7 H201 V342.4 H230.3" fill="none" stroke="#383f84" stroke-width="1.25" stroke-linejoin="miter"/>
<path d="M90.00,299.21v2.2M93.44,300.09v2.2M96.32,300.89v2.2M100.80,302.78v2.2M103.43,305.67v2.2M107.55,308.60v2.2M111.12,308.60v2.2M113.70,311.67v2.2M117.73,315.10v2.2M120.25,315.10v2.2M124.04,315.10v2.2M126.66,315.10v2.2M129.35,315.38v2.2M133.11,316.40v2.2M138.15,318.52v2.2M140.95,318.80v2.2M144.06,318.80v2.2M148.47,318.80v2.2M153.91,318.80v2.2M158.15,318.80v2.2M161.82,321.20v2.2M167.35,321.20v2.2M169.89,321.20v2.2M175.04,321.20v2.2M178.37,325.90v2.2M181.23,325.90v2.2M184.01,331.60v2.2M187.39,331.60v2.2M192.41,331.60v2.2M195.38,331.60v2.2M199.64,331.60v2.2M204.09,341.30v2.2M207.68,341.30v2.2M211.83,341.30v2.2M214.43,341.30v2.2M217.03,341.30v2.2M220.08,341.30v2.2M224.66,341.30v2.2M228.43,341.30v2.2" stroke="#383f84" stroke-width="0.7" fill="none"/>
<text x="157.85" y="257.33" font-size="5.4" font-weight="bold" font-style="normal" fill="#111" stroke="#111" stroke-width="0.2" textLength="31.60" lengthAdjust="spacingAndGlyphs"><tspan font-style="italic">FLT3</tspan>ITD level</text>
<text x="197.95" y="257.33" font-size="5.4" font-weight="bold" font-style="normal" fill="#111" stroke="#111" stroke-width="0.2" textLength="49.00" lengthAdjust="spacingAndGlyphs">Median RFS (months)</text>
<line x1="157.6" y1="270.5" x2="169.8" y2="270.5" stroke="#262a5c" stroke-width="1.3"/>
<text x="177.45" y="272.83" font-size="5.4" font-weight="bold" font-style="normal" fill="#111" stroke="#111" stroke-width="0.2" textLength="9.60" lengthAdjust="spacingAndGlyphs">0.00</text>
<text x="203.85" y="272.83" font-size="5.4" font-weight="bold" font-style="normal" fill="#111" stroke="#111" stroke-width="0.2" textLength="9.70" lengthAdjust="spacingAndGlyphs">85.8</text>
<line x1="157.6" y1="280.5" x2="169.8" y2="280.5" stroke="#6e2e2a" stroke-width="1.3"/>
<text x="177.45" y="282.33" font-size="5.4" font-weight="bold" font-style="normal" fill="#111" stroke="#111" stroke-width="0.2" textLength="20.80" lengthAdjust="spacingAndGlyphs">0.01-0.49</text>
<text x="206.45" y="282.63" font-size="5.4" font-weight="bold" font-style="normal" fill="#111" stroke="#111" stroke-width="0.2" textLength="7.10" lengthAdjust="spacingAndGlyphs">9.9</text>
<line x1="157.6" y1="289.5" x2="169.8" y2="289.5" stroke="#2c4a30" stroke-width="1.3"/>
<text x="177.45" y="292.13" font-size="5.4" font-weight="bold" font-style="normal" fill="#111" stroke="#111" stroke-width="0.2" textLength="12.80" lengthAdjust="spacingAndGlyphs">&#8805;0.50</text>
<text x="206.45" y="292.33" font-size="5.4" font-weight="bold" font-style="normal" fill="#111" stroke="#111" stroke-width="0.2" textLength="7.10" lengthAdjust="spacingAndGlyphs">5.7</text>
<text x="78.85" y="335.38" font-size="6.1" font-weight="bold" font-style="normal" fill="#111" stroke="#111" stroke-width="0.15" textLength="91.00" lengthAdjust="spacingAndGlyphs">Hazard Ratio: 2.5 (95% CI: 1.6-3.7)</text>
<text x="79.25" y="374.88" font-size="6.1" font-weight="bold" font-style="normal" fill="#111" stroke="#111" stroke-width="0.15" textLength="90.60" lengthAdjust="spacingAndGlyphs">Hazard Ratio: 1.9 (95% CI: 1.1-3.2)</text>
<text x="215.15" y="350.98" font-size="6.1" font-weight="bold" font-style="normal" fill="#111" stroke="#111" stroke-width="0.15" textLength="16.00" lengthAdjust="spacingAndGlyphs">n=157</text>
<text x="217.85" y="371.78" font-size="6.1" font-weight="bold" font-style="normal" fill="#111" stroke="#111" stroke-width="0.15" textLength="13.30" lengthAdjust="spacingAndGlyphs">n=54</text>
<text x="183.35" y="399.88" font-size="6.1" font-weight="bold" font-style="normal" fill="#111" stroke="#111" stroke-width="0.15" textLength="12.80" lengthAdjust="spacingAndGlyphs">n=31</text>
<path d="M310.3,251.2 H312.8 V282.5 H316.3 V313.6 H326.6 V345.1 H339 V376 H378.6" fill="none" stroke="#5a8e5a" stroke-width="1.25" stroke-linejoin="miter"/>
<path d="M340.00,374.90v2.2M351.76,374.90v2.2M365.27,374.90v2.2" stroke="#5a8e5a" stroke-width="0.7" fill="none"/>
<path d="M310.3,251.2 L313.3,268.8 H315.2 V274.6 H316.5 V290 L317.8,298.3 L319.1,303.8 L320.5,310.7 L321.2,317.6 L322.6,324.5 L323.3,331.4 L324.7,338.3 H327.4 L328.1,345.2 H329.6 L330.6,350.6 L332.9,358.6 L335.2,364.4 L336.4,375.9 H341 L342.1,381.6 L344.4,388.2 H438.4" fill="none" stroke="#cc5e56" stroke-width="1.25" stroke-linejoin="miter"/>
<path d="M345.00,387.10v2.2M354.62,387.10v2.2M365.10,387.10v2.2M378.49,387.10v2.2M388.22,387.10v2.2M398.28,387.10v2.2M408.98,387.10v2.2M416.46,387.10v2.2M426.55,387.10v2.2M437.59,387.10v2.2" stroke="#cc5e56" stroke-width="0.7" fill="none"/>
<path d="M310.3,251.2 L312.3,263.1 L314.2,268.8 L316.2,278.5 L317.3,287 L317.8,290 L319.8,294.1 L321.9,302.4 L324.7,312.1 L327.4,320.3 L329.5,325.9 L331.6,331.4 L333.6,335.5 L335.7,339.7 L337.3,343.7 L339.6,349.4 L341.9,351.7 L344.2,354 L347.1,357.5 L349.4,359.8 L352.3,360.4 L355.2,362.7 L359.2,363.8 L363.3,365.6 L365.6,369.6 L368.4,371.3 L375.4,371.9 L377.7,373.1 L398.2,373.8 L402.1,376.4 H419 V379 H489.1" fill="none" stroke="#383f84" stroke-width="1.25" stroke-linejoin="miter"/>
<path d="M370.00,370.34v2.2M375.29,370.79v2.2M380.00,372.08v2.2M385.31,372.26v2.2M389.14,372.39v2.2M395.39,372.60v2.2M401.69,375.02v2.2M407.30,375.30v2.2M410.94,375.30v2.2M416.02,375.30v2.2M420.33,377.90v2.2M424.33,377.90v2.2M431.15,377.90v2.2M438.13,377.90v2.2M441.31,377.90v2.2M447.75,377.90v2.2M453.16,377.90v2.2M457.69,377.90v2.2M461.82,377.90v2.2M467.52,377.90v2.2M472.35,377.90v2.2M478.09,377.90v2.2M483.74,377.90v2.2M487.27,377.90v2.2" stroke="#383f84" stroke-width="0.7" fill="none"/>
<text x="421.75" y="258.43" font-size="5.4" font-weight="bold" font-style="normal" fill="#111" stroke="#111" stroke-width="0.2" textLength="31.00" lengthAdjust="spacingAndGlyphs"><tspan font-style="italic">FLT3</tspan>ITD level</text>
<text x="461.25" y="258.43" font-size="5.4" font-weight="bold" font-style="normal" fill="#111" stroke="#111" stroke-width="0.2" textLength="49.60" lengthAdjust="spacingAndGlyphs">Median RFS (months)</text>
<line x1="420.9" y1="273.5" x2="433.1" y2="273.5" stroke="#262a5c" stroke-width="1.3"/>
<text x="440.75" y="275.13" font-size="5.4" font-weight="bold" font-style="normal" fill="#111" stroke="#111" stroke-width="0.2" textLength="9.90" lengthAdjust="spacingAndGlyphs">0.00</text>
<text x="467.65" y="274.73" font-size="5.4" font-weight="bold" font-style="normal" fill="#111" stroke="#111" stroke-width="0.2" textLength="8.70" lengthAdjust="spacingAndGlyphs">12.9</text>
<line x1="420.9" y1="282.5" x2="433.1" y2="282.5" stroke="#6e2e2a" stroke-width="1.3"/>
<text x="440.75" y="284.63" font-size="5.4" font-weight="bold" font-style="normal" fill="#111" stroke="#111" stroke-width="0.2" textLength="20.40" lengthAdjust="spacingAndGlyphs">0.01-0.49</text>
<text x="468.85" y="284.23" font-size="5.4" font-weight="bold" font-style="normal" fill="#111" stroke="#111" stroke-width="0.2" textLength="7.50" lengthAdjust="spacingAndGlyphs">8.6</text>
<line x1="420.9" y1="291.5" x2="433.1" y2="291.5" stroke="#2c4a30" stroke-width="1.3"/>
<text x="440.75" y="293.73" font-size="5.4" font-weight="bold" font-style="normal" fill="#111" stroke="#111" stroke-width="0.2" textLength="12.60" lengthAdjust="spacingAndGlyphs">&#8805;0.50</text>
<text x="467.65" y="293.73" font-size="5.4" font-weight="bold" font-style="normal" fill="#111" stroke="#111" stroke-width="0.2" textLength="8.70" lengthAdjust="spacingAndGlyphs">10.9</text>
<text x="348.85" y="365.78" font-size="6.1" font-weight="bold" font-style="normal" fill="#111" stroke="#111" stroke-width="0.15" textLength="96.80" lengthAdjust="spacingAndGlyphs">Hazard Ratio: 1.415 (95% CI: 0.9-2.2)</text>
<text x="349.35" y="384.48" font-size="6.1" font-weight="bold" font-style="normal" fill="#111" stroke="#111" stroke-width="0.15" textLength="91.10" lengthAdjust="spacingAndGlyphs">Hazard Ratio: 0.9 (95% CI: 0.3-2.5)</text>
<text x="354.15" y="374.18" font-size="6.1" font-weight="bold" font-style="normal" fill="#111" stroke="#111" stroke-width="0.15" textLength="9.50" lengthAdjust="spacingAndGlyphs">n=5</text>
<text x="474.65" y="387.68" font-size="6.1" font-weight="bold" font-style="normal" fill="#111" stroke="#111" stroke-width="0.15" textLength="15.90" lengthAdjust="spacingAndGlyphs">n=151</text>
<text x="426.65" y="396.68" font-size="6.1" font-weight="bold" font-style="normal" fill="#111" stroke="#111" stroke-width="0.15" textLength="13.80" lengthAdjust="spacingAndGlyphs">n=27</text>
</g>
</svg></body></html>
